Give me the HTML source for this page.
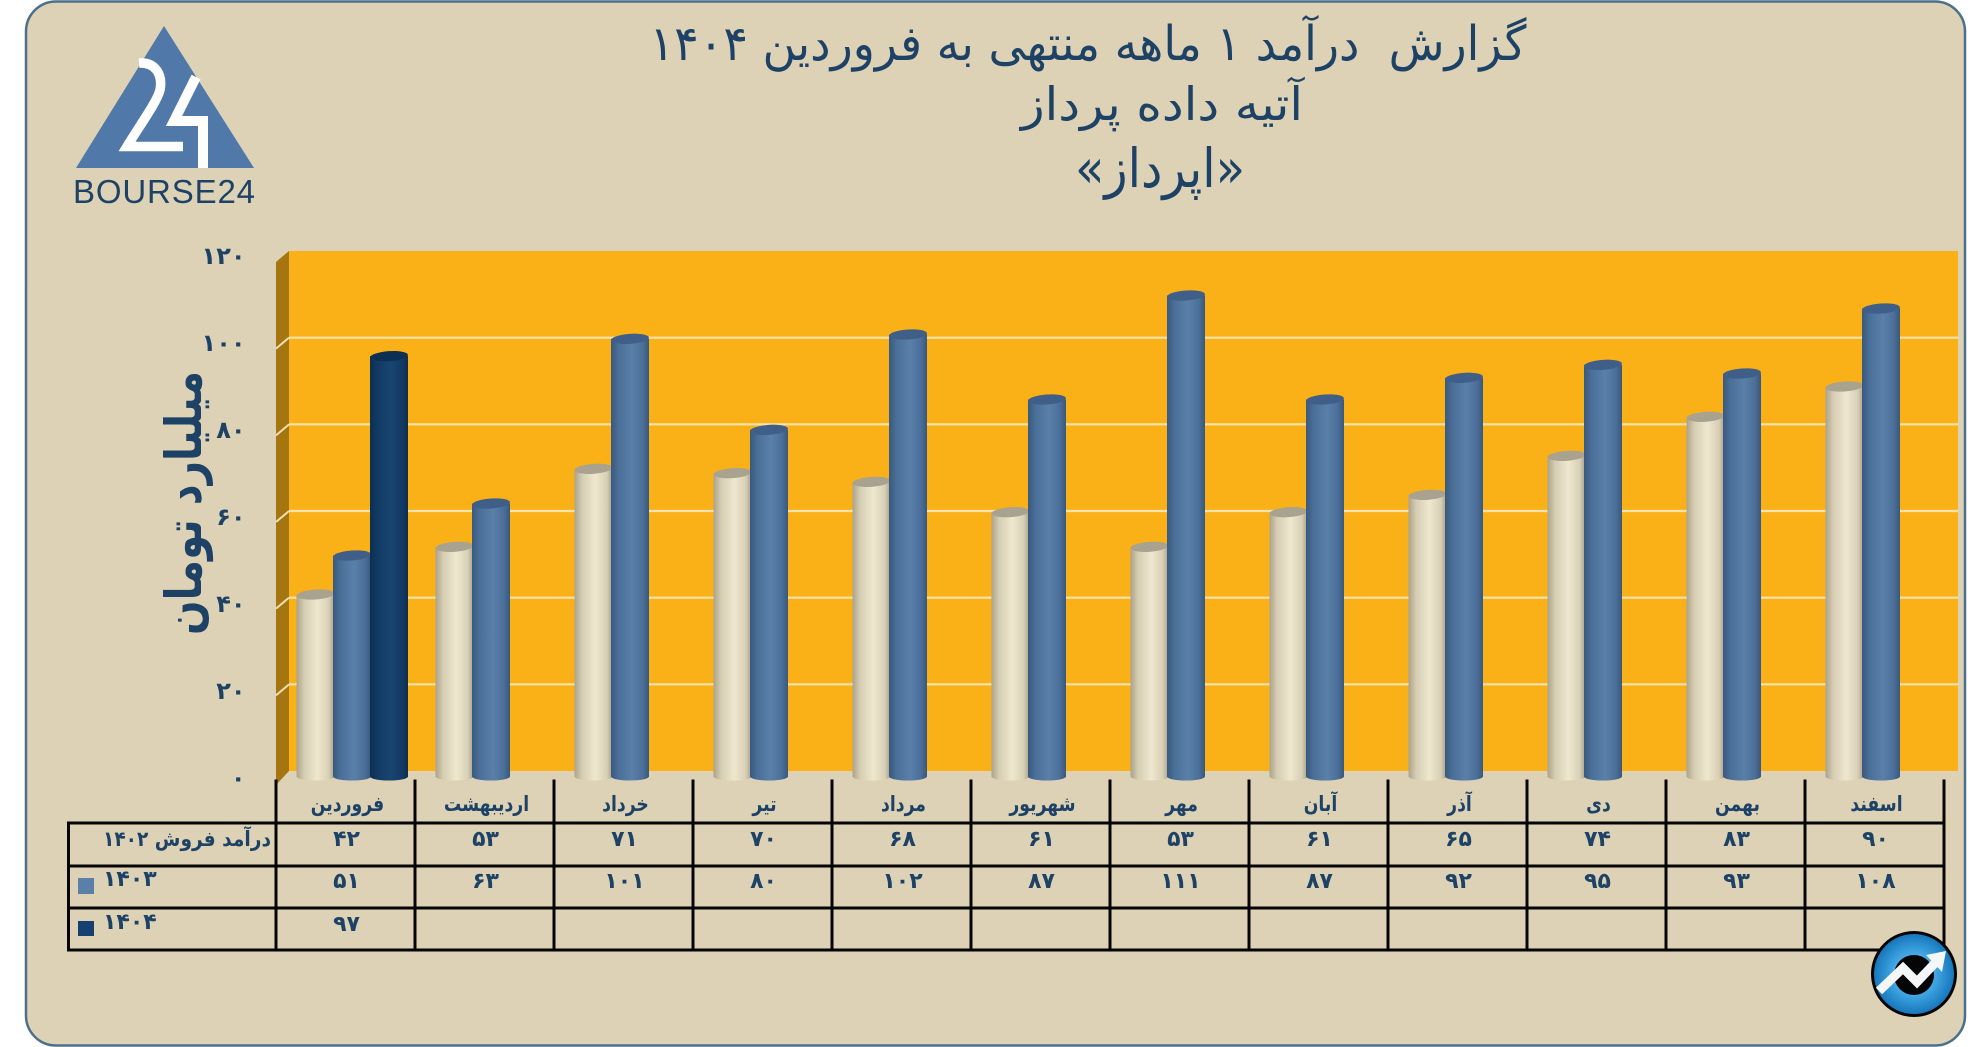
<!DOCTYPE html>
<html lang="fa">
<head>
<meta charset="utf-8">
<title>گزارش درآمد ماهانه اپرداز</title>
<style>
html,body{margin:0;padding:0;background:#fff;width:1986px;height:1047px;overflow:hidden}
svg{display:block}
text{font-family:"DejaVu Sans","Liberation Sans",sans-serif;fill:#1d4266}
</style>
</head>
<body>
<svg id="chart" xmlns="http://www.w3.org/2000/svg" width="1986" height="1047" viewBox="0 0 1986 1047">
  <defs>
    <linearGradient id="g-cream" x1="0" x2="1" y1="0" y2="0">
      <stop offset="0" stop-color="#aaa28c"/><stop offset=".2" stop-color="#d6cdb2"/><stop offset=".55" stop-color="#efe7cf"/><stop offset=".85" stop-color="#d8cfb5"/><stop offset="1" stop-color="#a69e88"/>
    </linearGradient>
    <linearGradient id="g-blue" x1="0" x2="1" y1="0" y2="0">
      <stop offset="0" stop-color="#39597f"/><stop offset=".2" stop-color="#4a6f98"/><stop offset=".55" stop-color="#5a80aa"/><stop offset=".85" stop-color="#4a6e97"/><stop offset="1" stop-color="#38577c"/>
    </linearGradient>
    <linearGradient id="g-dark" x1="0" x2="1" y1="0" y2="0">
      <stop offset="0" stop-color="#0c2f52"/><stop offset=".2" stop-color="#123a63"/><stop offset=".55" stop-color="#184571"/><stop offset=".85" stop-color="#123a62"/><stop offset="1" stop-color="#0c2e50"/>
    </linearGradient>
    <radialGradient id="g-badge" cx=".5" cy=".5" r=".5">
      <stop offset="0" stop-color="#8fd0f2"/><stop offset=".55" stop-color="#3da3e0"/><stop offset="1" stop-color="#1473b8"/>
    </radialGradient>
  </defs>

  <rect x="26" y="1.5" width="1939" height="1044" rx="30" ry="30" fill="#ddd2b6" stroke="#4b7089" stroke-width="2.5"/>

  <g>
    <polygon points="164,26 254,168 76,168" fill="#5078a8"/>
    <path d="M139,63 C155,62 163,74 160,90 C157,102 140,125 127,146.5 L183,146.5" fill="none" stroke="#fff" stroke-width="9.5"/>
    <path d="M196,77 L174,121 L203,121 L203,168" fill="none" stroke="#fff" stroke-width="10"/>
    <text x="73" y="203" font-size="33" textLength="182" lengthAdjust="spacing" style="font-family:'Liberation Sans',sans-serif">BOURSE24</text>
  </g>

  <g text-anchor="middle" direction="rtl">
    <text x="1088" y="60" font-size="48" textLength="877" lengthAdjust="spacingAndGlyphs">گزارش&#160; درآمد ۱ ماهه منتهی به فروردین ۱۴۰۴</text>
    <text x="1162" y="120" font-size="46" textLength="282" lengthAdjust="spacingAndGlyphs">آتیه داده پرداز</text>
    <text x="1160" y="187" font-size="54" textLength="170" lengthAdjust="spacingAndGlyphs">«اپرداز»</text>
  </g>

  <g>
    <rect x="289" y="251" width="1669" height="520" fill="#fab118"/>
    <polygon points="276,262 289,251 289,771 276,785" fill="#a5750f"/>
  </g>

  <g id="gridlines"></g>
  <g id="y-ticks" font-size="24" font-weight="700" text-anchor="end"></g>

  <text transform="translate(201,503) rotate(-90)" font-size="50" font-weight="700" text-anchor="middle" direction="rtl" textLength="264" lengthAdjust="spacingAndGlyphs">میلیارد تومان</text>

  <g id="bars"></g>
  <g id="table"></g>

  <g>
    <circle cx="1914" cy="974" r="41.5" fill="url(#g-badge)" stroke="#050505" stroke-width="3"/>
    <circle cx="1914" cy="975" r="20" fill="#050505"/>
    <polyline points="1879,991 1903,968 1917,982 1936,962" fill="none" stroke="#f4f6f8" stroke-width="9"/>
    <polygon points="1946,951 1942,972 1926,955" fill="#f4f6f8"/>
  </g>
</svg>

<script>
const categories = ["فروردین","اردیبهشت","خرداد","تیر","مرداد","شهریور","مهر","آبان","آذر","دی","بهمن","اسفند"];
const series1402 = [42,53,71,70,68,61,53,61,65,74,83,90];
const series1403 = [51,63,101,80,102,87,111,87,92,95,93,108];
const series1404 = [97,null,null,null,null,null,null,null,null,null,null,null];
const yTicks = [0,20,40,60,80,100,120];
const rowLabels = ["درآمد فروش ۱۴۰۲","۱۴۰۳","۱۴۰۴"];

const NS = "http://www.w3.org/2000/svg";
const yMax = 120;
const groupWidth = 139;
const tableLeft = 276;

function make(tag, attrs, parent, content) {
  const el = document.createElementNS(NS, tag);
  for (const k in attrs) el.setAttribute(k, attrs[k]);
  if (content !== undefined) el.textContent = content;
  parent.appendChild(el);
  return el;
}
function fa(n) {
  return String(n).replace(/\d/g, function (d) { return "۰۱۲۳۴۵۶۷۸۹"[+d]; });
}
function yBar(v) { return 776.5 - (v / yMax) * 520; }
function yWall(v) { return 771 - (v / yMax) * 520; }
function yLabel(v) { return 786 - (v / yMax) * 522; }
function xGroup(i) { return tableLeft + i * groupWidth; }

const gridG = document.getElementById("gridlines");
const tickG = document.getElementById("y-ticks");
yTicks.forEach(function (t) {
  const label = make("text", { x: 245.5, y: yLabel(t) }, tickG, fa(t));
  
  
  if (t > 0 && t < yMax) {
    const line = make("line", { x1: 289, x2: 1958, y1: yWall(t), y2: yWall(t), stroke: "#f7e3ae", "stroke-width": 2.2 }, gridG);
    
    
    const slant = make("line", { x1: 276, x2: 289, y1: yWall(t) + 11, y2: yWall(t), stroke: "#efe0b8", "stroke-width": 2 }, gridG);
    
    
  }
});

const barsG = document.getElementById("bars");
function drawBar(i, offset, value, grad, topColor, name) {
  if (value === null || value === undefined) return;
  const w = 38, rx = 19, ry = 5;
  const x = xGroup(i) + offset;
  const top = yBar(value), base = yBar(0);
  const g = make("g", {}, barsG);
  
  
  make("path", {
    d: "M" + x + "," + top + " L" + x + "," + base + " A" + rx + "," + (ry - 1) + " 0 0 0 " + (x + w) + "," + base + " L" + (x + w) + "," + top + " Z",
    fill: "url(#" + grad + ")"
  }, g);
  make("ellipse", {
    cx: x + rx, cy: top, rx: rx, ry: ry, fill: topColor,
    transform: "rotate(-4 " + (x + rx) + " " + top + ")"
  }, g);
}
categories.forEach(function (c, i) {
  drawBar(i, 20.5, series1402[i], "g-cream", "#a9a28f", "bar-1402");
  drawBar(i, 57, series1403[i], "g-blue", "#3f5f88", "bar-1403");
  drawBar(i, 94, series1404[i], "g-dark", "#0d2f52", "bar-1404");
});

const tableG = document.getElementById("table");
const rowLines = [823, 866, 908, 950];
const rowText = [846, 888, 931];
function tableLine(x1, y1, x2, y2) {
  const l = make("line", { x1: x1, y1: y1, x2: x2, y2: y2, stroke: "#050505", "stroke-width": 3, "stroke-linecap": "square" }, tableG);
  
  
}
rowLines.forEach(function (y) { tableLine(68.5, y, xGroup(categories.length), y); });
tableLine(68.5, 823, 68.5, 950);
for (let i = 0; i <= categories.length; i++) tableLine(xGroup(i), 781, xGroup(i), 950);

categories.forEach(function (c, i) {
  const cx = xGroup(i) + groupWidth / 2;
  const head = make("text", { x: cx + 2, y: 811, "font-size": 21, "font-weight": 700, "text-anchor": "middle", direction: "rtl" }, tableG, c);
  
  
  head.setAttribute("textLength", head.getComputedTextLength() * 0.82);
  head.setAttribute("lengthAdjust", "spacingAndGlyphs");
  [series1402, series1403, series1404].forEach(function (arr, r) {
    if (arr[i] === null) return;
    const cell = make("text", { x: cx + 1, y: rowText[r], "font-size": 22, "font-weight": 700, "text-anchor": "middle" }, tableG, fa(arr[i]));
    
    
  });
});

const label1 = make("text", { x: 271, y: rowText[0], "font-size": 21, "font-weight": 700, "text-anchor": "start", direction: "rtl", textLength: 168, lengthAdjust: "spacingAndGlyphs" }, tableG, rowLabels[0]);


const label2 = make("text", { x: 103, y: rowText[1] - 2, "font-size": 22, "font-weight": 700 }, tableG, rowLabels[1]);


const label3 = make("text", { x: 103, y: rowText[2] - 2, "font-size": 22, "font-weight": 700 }, tableG, rowLabels[2]);


const swatch2 = make("rect", { x: 78, y: 878, width: 16, height: 16, fill: "#5a7fa8" }, tableG);


const swatch3 = make("rect", { x: 78, y: 921, width: 16, height: 15, fill: "#15406f" }, tableG);


</script>
</body>
</html>
